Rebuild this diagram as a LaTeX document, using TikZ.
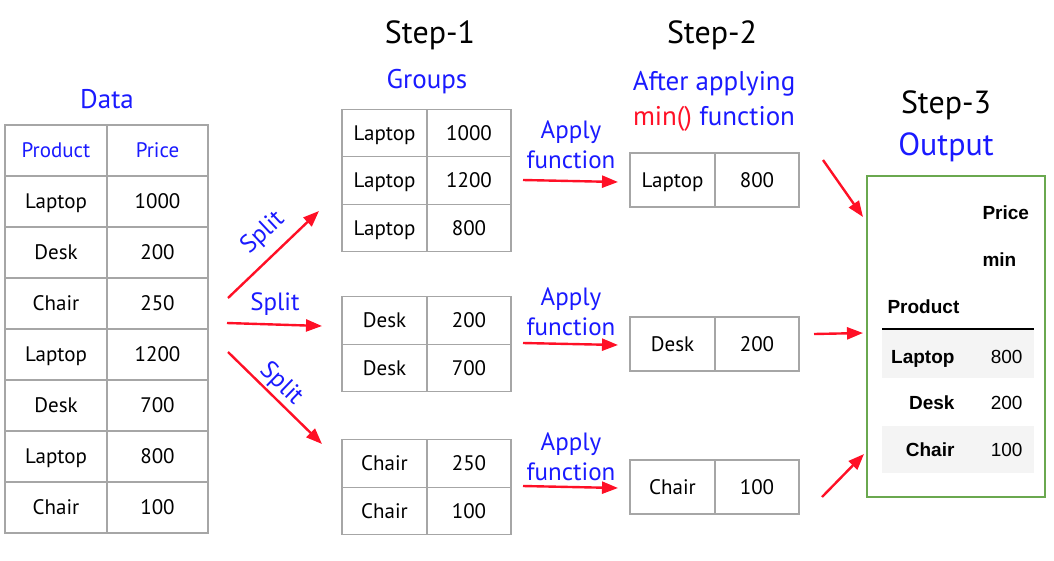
\documentclass[tikz,border=0pt]{standalone}
\usepackage{fontspec}
\setmainfont{PT Sans}
\newfontfamily\outfont{Liberation Sans}
\usetikzlibrary{arrows.meta}
\definecolor{grid}{HTML}{A6A6A6}
\definecolor{lblue}{HTML}{1A1AFF}
\definecolor{lred}{HTML}{FF1026}
\definecolor{boxgreen}{HTML}{6AA84F}
\definecolor{rowshade}{HTML}{F4F4F4}
\tikzset{
  cell/.style={draw=grid, line width=1.4pt, minimum width=85pt, minimum height=47.5pt,
    inner sep=0pt, text height=14.7pt, text depth=0pt, font=\fontsize{21}{25}\selectfont},
  head/.style={font=\fontsize{32}{38}\selectfont, anchor=base},
  lab/.style={text=lblue, font=\fontsize{27}{32}\selectfont, anchor=base},
  alab/.style={text=lblue, font=\fontsize{25}{30}\selectfont, anchor=base},
  arr/.style={draw=lred, line width=2.4pt, -{Triangle[length=16pt,width=12pt]}},
  outlab/.style={font=\outfont\bfseries\fontsize{19}{23}\selectfont, anchor=base east},
  outval/.style={font=\outfont\fontsize{19}{23}\selectfont, anchor=base east},
}
\begin{document}
\begin{tikzpicture}[x=1pt,y=-1pt]
  \useasboundingbox (0,0) rectangle (1054,560);
  % data table
  \node[lab] (data) at (107,108) {Data};
  \node[cell, text=lblue, minimum width=102pt, minimum height=51pt] (dp0) at (56,150.5) {Product};
  \node[cell, text=lblue, minimum width=101pt, minimum height=51pt] (dv0) at (157.5,150.5) {Price};
  \foreach \prod/\price [count=\i] in {Laptop/1000,Desk/200,Chair/250,Laptop/1200,Desk/700,Laptop/800,Chair/100}{
    \node[cell, minimum width=102pt, minimum height=51pt] (dp\i) at (56,{150.5+51*\i}) {\prod};
    \node[cell, minimum width=101pt, minimum height=51pt] (dv\i) at (157.5,{150.5+51*\i}) {\price};
  }
  % step 1
  \node[head] (step1) at (430,43) {Step-1};
  \node[lab] (groups) at (427,88) {Groups};
  \foreach \prod/\price/\y [count=\i] in {Laptop/1000/133,Laptop/1200/180.5,Laptop/800/228,
      Desk/200/320.5,Desk/700/368,Chair/250/463.5,Chair/100/511}{
    \node[cell] (gp\i) at (384.5,\y) {\prod};
    \node[cell, minimum width=84pt] (gv\i) at (469,\y) {\price};
  }
  \foreach \a/\b/\c/\d [count=\i] in {228/298/319/211,227/323/322/326,228/352/322/444}{
    \coordinate (sa\i) at (\a,\b);
    \coordinate (sb\i) at (\c,\d);
    \draw[arr] (sa\i) -- (sb\i);
  }
  \node[alab, anchor=center, rotate=43] (sp1) at (263,233) {Split};
  \node[alab, anchor=center] (sp2) at (275,304) {Split};
  \node[alab, anchor=center, rotate=-44] (sp3) at (281,384) {Split};
  % step 2
  \node[head] (step2) at (712,43) {Step-2};
  \node[lab] (after) at (714,90) {After applying};
  \node[lab] (minfn) at (714,125) {\textcolor{lred}{min()} function};
  \foreach \y [count=\i] in {138,305,450}{
    \node[alab] (ap\i) at (571,\y) {Apply};
    \node[alab] (fn\i) at (571,{\y+30}) {function};
  }
  \foreach \a/\b/\c/\d [count=\i] in {523/180/618/182,523/343/618/345,523/486/618/488}{
    \coordinate (fa\i) at (\a,\b);
    \coordinate (fb\i) at (\c,\d);
    \draw[arr] (fa\i) -- (fb\i);
  }
  \foreach \prod/\price/\y [count=\i] in {Laptop/800/180,Desk/200/344,Chair/100/487}{
    \node[cell, minimum height=54pt] (mp\i) at (672.5,\y) {\prod};
    \node[cell, minimum width=84pt, minimum height=54pt] (mv\i) at (757,\y) {\price};
  }
  % step 3
  \node[head] (step3) at (946,113) {Step-3};
  \node[lab, font=\fontsize{32}{38}\selectfont] (output) at (946,155) {Output};
  \foreach \a/\b/\c/\d [count=\i] in {823/160/863/217,814/334/863/333,822/497/864/454}{
    \coordinate (oa\i) at (\a,\b);
    \coordinate (ob\i) at (\c,\d);
    \draw[arr] (oa\i) -- (ob\i);
  }
  \fill[rowshade] (882,330) rectangle (1034,378);
  \fill[rowshade] (882,426) rectangle (1034,473);
  \draw[line width=1.2pt] (882,329) -- (1034,329);
  \node[draw=boxgreen, line width=1.6pt, minimum width=178pt, minimum height=321pt] (outbox) at (956,336.5) {};
  \node[outlab, anchor=base west] (oprice) at (979,219) {Price};
  \node[outlab, anchor=base west] (omin) at (979,266) {min};
  \node[outlab, anchor=base west] (oprod) at (884,313) {Product};
  \foreach \prod/\price/\y [count=\i] in {Laptop/800/363,Desk/200/409,Chair/100/456}{
    \node[outlab] (or\i) at (958,\y) {\prod};
    \node[outval] (ov\i) at (1026,\y) {\price};
  }
\end{tikzpicture}
\end{document}
